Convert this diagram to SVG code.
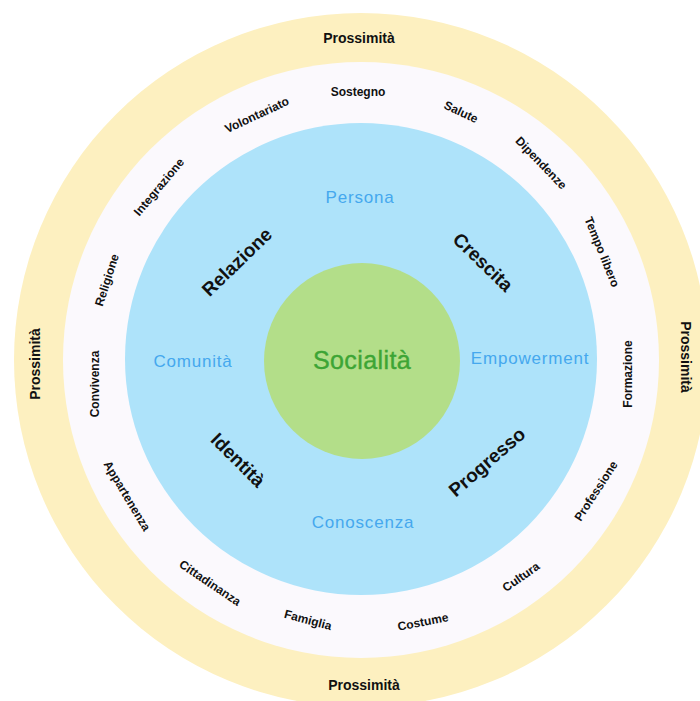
<svg xmlns="http://www.w3.org/2000/svg" width="700" height="701" viewBox="0 0 700 701">
<style>
.ring{font-family:"Liberation Sans",Arial,sans-serif;font-weight:bold;font-size:12px;fill:#111;text-anchor:middle;dominant-baseline:central}
.prox{font-family:"Liberation Sans",Arial,sans-serif;font-weight:bold;font-size:14px;fill:#111;text-anchor:middle;dominant-baseline:central}
.big{font-family:"Liberation Sans",Arial,sans-serif;font-weight:bold;font-size:19px;fill:#111;text-anchor:middle;dominant-baseline:central}
.blue{font-family:"Liberation Sans",Arial,sans-serif;font-size:17px;letter-spacing:0.8px;fill:#45A8EE;text-anchor:middle;dominant-baseline:central}
.soc{font-family:"Liberation Sans",Arial,sans-serif;font-size:25px;letter-spacing:0.4px;fill:#3DA535;stroke:#3DA535;stroke-width:0.4;text-anchor:middle;dominant-baseline:central}
</style>
<rect width="700" height="701" fill="#ffffff"/>
<g id="outer-ring">
  <circle cx="361" cy="360" r="347" fill="#FDF0C0"/>
  <text class="prox" x="359" y="38">Prossimità</text>
  <text class="prox" x="364" y="685">Prossimità</text>
  <text class="prox" transform="translate(35,364) rotate(-90)">Prossimità</text>
  <text class="prox" transform="translate(686,357) rotate(90)">Prossimità</text>
</g>
<g id="middle-ring">
  <circle cx="361" cy="360" r="298" fill="#FBF9FD"/>
  <text class="ring" transform="translate(358,92)">Sostegno</text>
  <text class="ring" transform="translate(461,112) rotate(25)">Salute</text>
  <text class="ring" transform="translate(541,163) rotate(46)">Dipendenze</text>
  <text class="ring" transform="translate(602,252) rotate(68)">Tempo libero</text>
  <text class="ring" transform="translate(628,374) rotate(-90)">Formazione</text>
  <text class="ring" transform="translate(596,491) rotate(-57)">Professione</text>
  <text class="ring" transform="translate(521,577) rotate(-35)">Cultura</text>
  <text class="ring" transform="translate(423,622) rotate(-11)">Costume</text>
  <text class="ring" transform="translate(308,620) rotate(15)">Famiglia</text>
  <text class="ring" transform="translate(210,583) rotate(34)">Cittadinanza</text>
  <text class="ring" transform="translate(127,496) rotate(59)">Appartenenza</text>
  <text class="ring" transform="translate(95,384) rotate(-90)">Convivenza</text>
  <text class="ring" transform="translate(107,280) rotate(-72)">Religione</text>
  <text class="ring" transform="translate(159,187) rotate(-50)">Integrazione</text>
  <text class="ring" transform="translate(257,115) rotate(-25)">Volontariato</text>
</g>
<g id="inner-circle">
  <circle cx="361" cy="359" r="236" fill="#AEE3FA"/>
  <text class="blue" x="360" y="197">Persona</text>
  <text class="blue" x="193" y="361">Comunità</text>
  <text class="blue" x="530" y="358">Empowerment</text>
  <text class="blue" x="363" y="522">Conoscenza</text>
  <text class="big" transform="translate(237,262) rotate(-44)">Relazione</text>
  <text class="big" transform="translate(483,262) rotate(44)">Crescita</text>
  <text class="big" transform="translate(238,460) rotate(45)">Identità</text>
  <text class="big" transform="translate(487,462) rotate(-41)">Progresso</text>
</g>
<g id="core">
  <circle cx="362" cy="361" r="98" fill="#B3DE89"/>
  <text class="soc" x="362" y="360">Socialità</text>
</g>
</svg>
